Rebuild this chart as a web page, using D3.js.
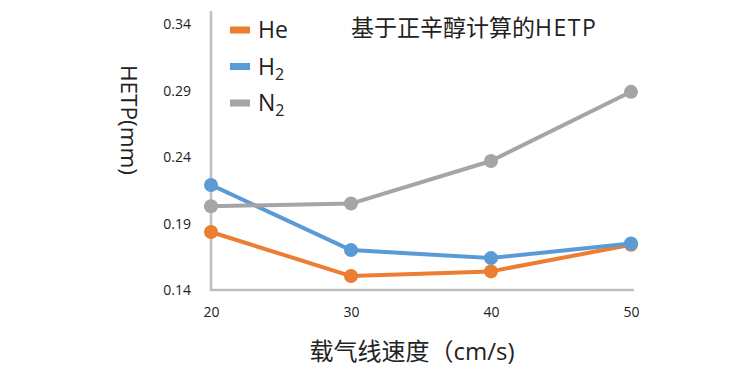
<!DOCTYPE html>
<html>
<head>
<meta charset="utf-8">
<script src="https://cdn.jsdelivr.net/npm/d3@7"></script>
<style>
  body { margin: 0; background: #fff; }
  text { font-family: "Open Sans", "Noto Sans CJK SC", sans-serif; }
</style>
</head>
<body>
<div id="chart"></div>
<script>
/* Daten */
var speeds = [20, 30, 40, 50];
var yTicks = [0.14, 0.19, 0.24, 0.29, 0.34];
var heValues = [0.1836, 0.1505, 0.154, 0.174];
var h2Values = [0.219, 0.170, 0.164, 0.175];
var n2Values = [0.203, 0.205, 0.237, 0.289];

var series = [
  {name: "He", sub: "", values: heValues, color: "#ED7D31"},
  {name: "H", sub: "2", values: h2Values, color: "#5B9BD5"},
  {name: "N", sub: "2", values: n2Values, color: "#A5A5A5"}
];

var width = 756, height = 380;
var svg = d3.select("#chart").append("svg").attr("width", width).attr("height", height);

var x = d3.scaleLinear().domain([20, 50]).range([211, 631]);
var y = d3.scaleLinear().domain([0.14, 0.34]).range([290, 24]);

/* Achsen */
svg.append("line").attr("x1", 211).attr("x2", 211).attr("y1", 11).attr("y2", 291)
  .attr("stroke", "#BFBFBF").attr("stroke-width", 2.5);
svg.append("line").attr("x1", 210).attr("x2", 634).attr("y1", 290).attr("y2", 290)
  .attr("stroke", "#BFBFBF").attr("stroke-width", 2.5);

var yAxis = svg.append("g").attr("transform", "translate(194,0)")
  .call(d3.axisLeft(y).tickValues(yTicks).tickSize(0).tickFormat(d3.format(".2f")));
yAxis.select(".domain").remove();
yAxis.selectAll("text").attr("font-size", "14px").attr("fill", "#222")
  .attr("font-family", "'Open Sans', sans-serif").attr("dy", "0.35em");

var xAxis = svg.append("g").attr("transform", "translate(0,304)")
  .call(d3.axisBottom(x).tickValues(speeds).tickSize(0).tickFormat(d3.format("d")));
xAxis.select(".domain").remove();
xAxis.selectAll("text").attr("font-size", "14px").attr("fill", "#222")
  .attr("font-family", "'Open Sans', sans-serif");

/* Linien */
var line = d3.line().x(function(d, i) {return x(speeds[i]);}).y(function(d) {return y(d);});
series.forEach(function(s) {
  var g = svg.append("g");
  g.append("path").attr("d", line(s.values)).attr("fill", "none")
    .attr("stroke", s.color).attr("stroke-width", 4).attr("stroke-linejoin", "round");
  g.selectAll("circle").data(s.values).enter().append("circle")
    .attr("cx", function(d, i) {return x(speeds[i]);})
    .attr("cy", function(d) {return y(d);})
    .attr("r", 7).attr("fill", s.color);
});

/* Legende */
var legend = svg.append("g");
series.forEach(function(s, i) {
  var ly = 30 + i * 36.5;
  legend.append("rect").attr("x", 230).attr("y", ly - 3.5).attr("width", 20).attr("height", 7).attr("fill", s.color);
  var t = legend.append("text").attr("x", 258).attr("y", ly + 8).attr("font-size", "23px").attr("fill", "#222")
    .attr("font-family", "'Open Sans', sans-serif").text(s.name);
  if (s.sub) t.append("tspan").attr("font-size", "16px").attr("dy", "5").text(s.sub);
});

/* Titel und Beschriftungen */
var title = svg.append("text").attr("x", 351).attr("y", 36).attr("font-size", "23px").attr("fill", "#222")
  .attr("font-family", "'Noto Sans CJK SC', sans-serif").text("基于正辛醇计算的");
title.append("tspan").attr("font-family", "'Open Sans', sans-serif").attr("letter-spacing", "1.5px").text("HETP");

svg.append("text").attr("transform", "translate(121,120) rotate(90)").attr("text-anchor", "middle")
  .attr("font-size", "22.5px").attr("fill", "#222").attr("font-family", "'Open Sans', sans-serif").text("HETP(mm)");

svg.append("text").attr("x", 412).attr("y", 360).attr("text-anchor", "middle")
  .attr("font-size", "24px").attr("fill", "#222")
  .attr("font-family", "'Noto Sans CJK SC', sans-serif").text("载气线速度（cm/s)");
</script>
</body>
</html>
